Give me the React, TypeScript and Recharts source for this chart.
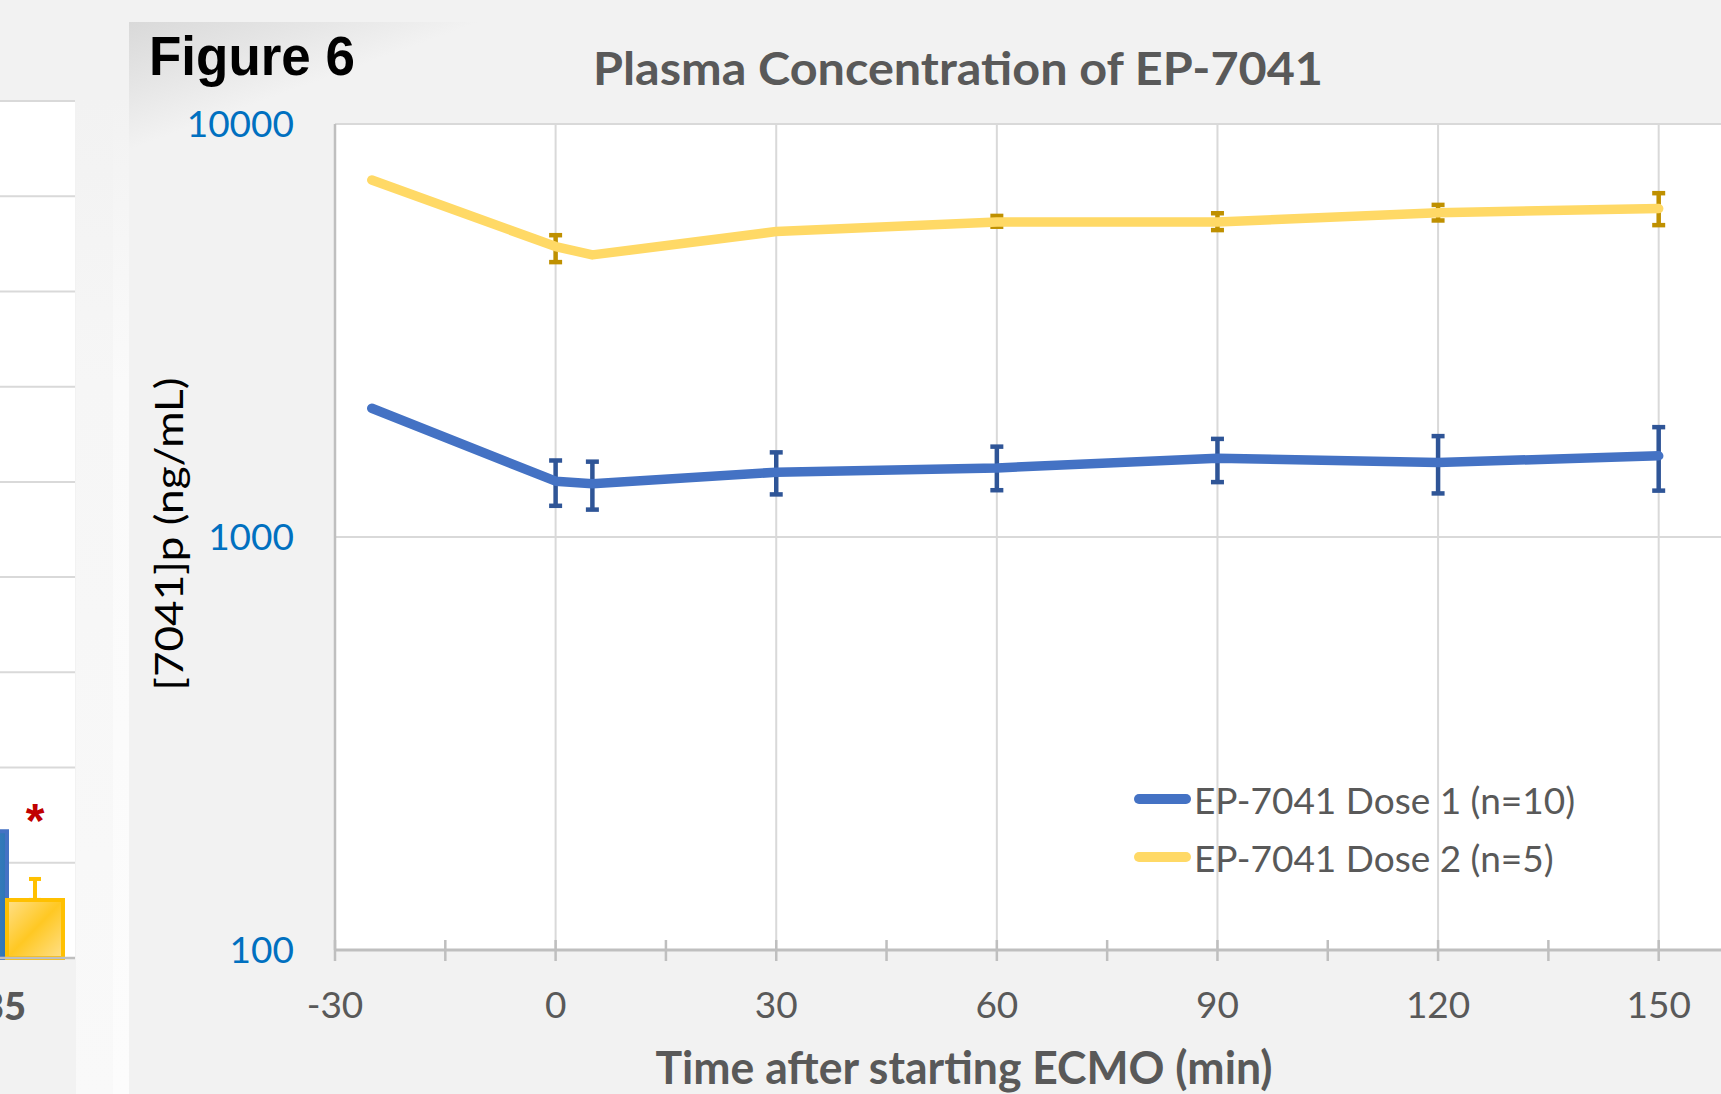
import React from 'react';
import {
  Bar,
  BarChart,
  CartesianGrid,
  ErrorBar,
  LabelList,
  Legend,
  Line,
  LineChart,
  XAxis,
  YAxis,
} from 'recharts';

// minutes after starting ECMO
const times = [-25, 0, 5, 30, 60, 90, 120, 150];

// EP-7041 dose 1 (n=10): mean and error bar ends, ng/mL
const dose1Mean = [2050, 1365, 1345, 1435, 1470, 1552, 1515, 1572];
const dose1Low = [null, 1190, 1165, 1268, 1298, 1358, 1275, 1295];
const dose1High = [null, 1532, 1522, 1603, 1655, 1728, 1755, 1845];

// EP-7041 dose 2 (n=5)
const dose2Mean = [7315, 5050, 4820, 5490, 5790, 5790, 6100, 6240];
const dose2Low = [null, 4630, null, null, 5640, 5535, 5840, 5690];
const dose2High = [null, 5380, null, null, 5990, 6080, 6370, 6800];

const xTicks = [-30, -15, 0, 15, 30, 45, 60, 75, 90, 105, 120, 135, 150, 165];
const xMajor = [-30, 0, 30, 60, 90, 120, 150];
const yTicks = [100, 1000, 10000];

// neighbouring figure, only its last group is visible at the left edge
const prevCats = ['35'];
const prevBlue = [13.3];
const prevYellow = [6.1];
const prevYellowErr = [2.2];
const prevTicks = [0, 10, 20, 30, 40, 50, 60, 70, 80, 90];

const errPair = (m: number, lo: number | null, hi: number | null) =>
  lo == null || hi == null ? null : [m - lo, hi - m];

const data = times.map((t, i) => ({
  t,
  dose1: dose1Mean[i],
  dose1Err: errPair(dose1Mean[i], dose1Low[i], dose1High[i]),
  dose2: dose2Mean[i],
  dose2Err: errPair(dose2Mean[i], dose2Low[i], dose2High[i]),
}));

const prevData = prevCats.map((c, i) => ({
  cat: c,
  blue: prevBlue[i],
  yellow: prevYellow[i],
  yellowErr: [0, prevYellowErr[i]],
}));

const FONT = 'Lato, "Open Sans", sans-serif';

function XTick(props: any) {
  const { x, y, payload } = props;
  const major = xMajor.includes(payload.value);
  return (
    <g>
      <line x1={x} x2={x} y1={y - 10} y2={y + 11} stroke="#bfbfbf" strokeWidth={2.5} />
      {major && (
        <text x={x} y={y + 68} textAnchor="middle" fill="#595959" fontSize={37} fontFamily={FONT}>
          {payload.value}
        </text>
      )}
    </g>
  );
}

function PrevTick(props: any) {
  const { x, y, payload } = props;
  return (
    <text x={x - 3} y={y + 62} textAnchor="middle" fill="#595959" fontSize={38} fontWeight={900} fontFamily={FONT}>
      {payload.value}
    </text>
  );
}

function Star(props: any) {
  const { x, y, width } = props;
  return (
    <text x={x + width / 2} y={y - 63} textAnchor="middle" fill="#c00000" fontSize={48} fontWeight={700} fontFamily='"Liberation Sans", Arial'>
      *
    </text>
  );
}

function LegendBox({ payload }: any) {
  return (
    <div style={{ fontFamily: FONT }}>
      {(payload || []).map((p: any) => (
        <div key={p.value} style={{ display: 'flex', alignItems: 'center', height: 58 }}>
          <span style={{ width: 57, height: 10, borderRadius: 5, background: p.color, display: 'inline-block' }} />
          <span style={{ marginLeft: 3, fontSize: 37, color: '#595959', lineHeight: 1, whiteSpace: 'nowrap' }}>
            {p.value}
          </span>
        </div>
      ))}
    </div>
  );
}

function PrevChart() {
  return (
    <div style={{ position: 'absolute', left: 0, top: 0, width: 76, height: 1094, overflow: 'hidden' }}>
      <div style={{ position: 'absolute', left: -61, top: 0 }}>
        <BarChart width={136} height={1094} data={prevData} margin={{ top: 101, right: 0, bottom: 0, left: 0 }} barSize={56} barGap={0}>
          <defs>
            <linearGradient id="prevBlueFill" x1="0" y1="0" x2="1" y2="0">
              <stop offset="0%" stopColor="#5b9bd5" />
              <stop offset="100%" stopColor="#2e75b6" />
            </linearGradient>
            <linearGradient id="prevYellowFill" x1="0" y1="0" x2="1" y2="1">
              <stop offset="0%" stopColor="#ffe08a" />
              <stop offset="50%" stopColor="#ffc823" />
              <stop offset="100%" stopColor="#ffe08a" />
            </linearGradient>
          </defs>
          <CartesianGrid vertical={false} stroke="#d9d9d9" strokeWidth={2} fill="#ffffff" />
          <XAxis dataKey="cat" height={136} tickLine={false} tickSize={0} tickMargin={0} axisLine={{ stroke: '#bfbfbf', strokeWidth: 2.5 }} tick={(p: any) => <PrevTick {...p} />} />
          <YAxis hide domain={[0, 90]} ticks={prevTicks} />
          <Bar dataKey="blue" fill="url(#prevBlueFill)" stroke="#4472c4" strokeWidth={4} isAnimationActive={false} />
          <Bar dataKey="yellow" fill="url(#prevYellowFill)" stroke="#ffc000" strokeWidth={4} isAnimationActive={false}>
            <ErrorBar dataKey="yellowErr" stroke="#ffc000" strokeWidth={4} width={6} direction="y" isAnimationActive={false} />
            <LabelList dataKey="yellow" content={(p: any) => <Star {...p} />} />
          </Bar>
        </BarChart>
      </div>
    </div>
  );
}

export default function App() {
  return (
    <div style={{ position: 'fixed', left: 0, top: 0, width: 1721, height: 1094, overflow: 'hidden', background: '#f2f2f2', fontFamily: FONT }}>
      <PrevChart />
      {/* shadow strip between the two figures */}
      <div style={{ position: 'absolute', left: 76, top: 0, width: 37, height: 1094, background: 'linear-gradient(to bottom, #f2f2f2 0%, #f2f2f2 9%, #f6f6f6 35%, #f9f9f9 100%)' }} />
      <div style={{ position: 'absolute', left: 113, top: 0, width: 16, height: 1094, background: 'linear-gradient(to bottom, #f2f2f2 0%, #f2f2f2 9%, #fafafa 35%, #fcfcfc 100%)' }} />
      {/* Figure 6 panel corner shading */}
      <div style={{ position: 'absolute', left: 129, top: 22, width: 380, height: 140, background: 'linear-gradient(160deg, #d9d9d9 0%, #e6e6e6 25%, rgba(242,242,242,0) 46%)' }} />

      <div style={{ position: 'absolute', left: 0, top: 0 }}>
        <LineChart width={1800} height={1094} data={data} margin={{ top: 124, right: 31, bottom: 44, left: 235 }}>
          <CartesianGrid stroke="#d9d9d9" strokeWidth={2} fill="#ffffff" verticalValues={xMajor} />
          <XAxis
            type="number"
            dataKey="t"
            domain={[-30, 165]}
            ticks={xTicks}
            interval={0}
            allowDataOverflow
            height={100}
            tickSize={0}
            tickMargin={0}
            tickLine={false}
            axisLine={{ stroke: '#bfbfbf', strokeWidth: 3 }}
            tick={(p: any) => <XTick {...p} />}
          />
          <YAxis
            scale="log"
            domain={[100, 10000]}
            ticks={yTicks}
            allowDataOverflow
            width={100}
            tickLine={false}
            tickSize={6}
            tickMargin={35}
            axisLine={{ stroke: '#bfbfbf', strokeWidth: 2.5 }}
            tick={{ fill: '#0070c0', fontSize: 37, fontFamily: FONT }}
          />
          <Line
            dataKey="dose1"
            name="EP-7041 Dose 1 (n=10)"
            stroke="#4472c4"
            strokeWidth={9.5}
            strokeLinejoin="round"
            strokeLinecap="round"
            dot={false}
            activeDot={false}
            isAnimationActive={false}
          >
            <ErrorBar dataKey="dose1Err" stroke="#2f5597" strokeWidth={4.5} width={6.5} direction="y" isAnimationActive={false} />
          </Line>
          <Line
            dataKey="dose2"
            name="EP-7041 Dose 2 (n=5)"
            stroke="#ffd966"
            strokeWidth={9.5}
            strokeLinejoin="round"
            strokeLinecap="round"
            dot={false}
            activeDot={false}
            isAnimationActive={false}
          >
            <ErrorBar dataKey="dose2Err" stroke="#bf9000" strokeWidth={4.5} width={6.5} direction="y" isAnimationActive={false} />
          </Line>
          <Legend
            layout="vertical"
            align="center"
            verticalAlign="middle"
            content={(p: any) => <LegendBox {...p} />}
            wrapperStyle={{ position: 'absolute', left: 1134, top: 770, width: 560, height: 120 }}
          />
        </LineChart>
      </div>

      <svg width={1721} height={1094} style={{ position: 'absolute', left: 0, top: 0, pointerEvents: 'none' }}>
        <text x={149} y={75} fontFamily='"Liberation Sans", Arial, sans-serif' fontWeight={700} fontSize={56} fill="#000" textLength={206} lengthAdjust="spacingAndGlyphs">
          Figure 6
        </text>
        <text x={958} y={84.5} textAnchor="middle" fontFamily={FONT} fontWeight={700} fontSize={46} fill="#595959" textLength={730} lengthAdjust="spacingAndGlyphs">
          Plasma Concentration of EP-7041
        </text>
        <text x={964} y={1083.5} textAnchor="middle" fontFamily={FONT} fontWeight={700} fontSize={46} fill="#595959" textLength={617} lengthAdjust="spacingAndGlyphs">
          Time after starting ECMO (min)
        </text>
        <text transform="translate(183,534) rotate(-90)" textAnchor="middle" fontFamily={FONT} fontSize={39} fill="#000" textLength={313} lengthAdjust="spacingAndGlyphs">
          [7041]p (ng/mL)
        </text>
      </svg>
    </div>
  );
}
